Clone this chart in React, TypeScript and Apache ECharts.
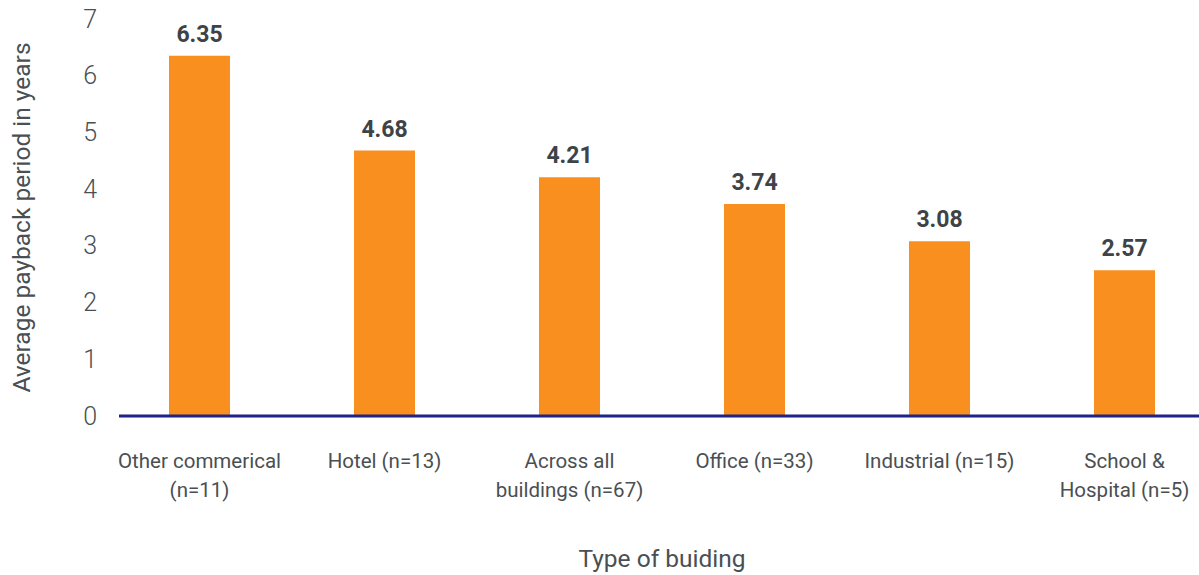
import React, { useEffect, useRef } from "react";
import * as echarts from "echarts";

const categories = [
  "Other commerical\n(n=11)",
  "Hotel (n=13)",
  "Across all\nbuildings (n=67)",
  "Office (n=33)",
  "Industrial (n=15)",
  "School &\nHospital (n=5)",
];
const paybackYears = [6.35, 4.68, 4.21, 3.74, 3.08, 2.57];
const yTicks = { min: 0, max: 7, interval: 1 };

export default function App() {
  const ref = useRef<HTMLDivElement>(null);
  useEffect(() => {
    if (!ref.current) return;
    const chart = echarts.init(ref.current, undefined, { renderer: "svg" });
    chart.setOption({
      animation: false,
      backgroundColor: "#ffffff",
      grid: {
        left: 107,
        right: -18,
        top: 19,
        bottom: 159,
        containLabel: false,
        outerBoundsMode: "none",
      },
      xAxis: {
        type: "category",
        data: categories,
        name: "Type of buiding",
        nameLocation: "middle",
        nameGap: 130,
        nameTextStyle: { fontFamily: "Roboto", fontSize: 24.5, color: "#4a4f53" },
        axisLine: { show: false },
        axisTick: { show: false },
        axisLabel: {
          interval: 0,
          margin: 30,
          fontFamily: "Roboto",
          fontSize: 20.5,
          lineHeight: 29,
          color: "#4a4f53",
        },
      },
      yAxis: {
        type: "value",
        min: yTicks.min,
        max: yTicks.max,
        interval: yTicks.interval,
        name: "Average payback period in years",
        nameLocation: "middle",
        nameGap: 73,
        nameTextStyle: { fontFamily: "Roboto", fontSize: 24.5, color: "#4a4f53" },
        axisLine: { show: false },
        axisTick: { show: false },
        splitLine: { show: false },
        axisLabel: {
          margin: 10,
          fontFamily: "Roboto",
          fontWeight: 300,
          fontSize: 25,
          color: "#4a4f53",
        },
      },
      graphic: [
        {
          type: "line",
          shape: { x1: 119, y1: 416, x2: 1199, y2: 416 },
          style: { stroke: "#1f2288", lineWidth: 3 },
          z: 10,
        },
      ],
      series: [
        {
          type: "bar",
          data: paybackYears,
          barWidth: 61,
          itemStyle: { color: "#f88f1e" },
          label: {
            show: true,
            position: "top",
            distance: 10,
            formatter: (p: any) => p.value.toFixed(2),
            fontFamily: "Roboto",
            fontWeight: "bold",
            fontSize: 23,
            color: "#3d4347",
          },
        },
      ],
    });
    return () => chart.dispose();
  }, []);
  return (
    <div
      ref={ref}
      style={{ position: "absolute", left: 0, top: 0, width: 1199, height: 575 }}
    />
  );
}
